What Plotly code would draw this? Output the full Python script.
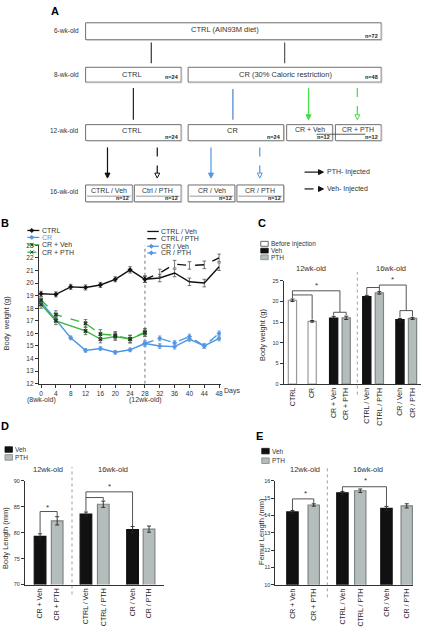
import plotly.graph_objects as go

W, H = 426, 634
FONT = "Liberation Sans, Arial, sans-serif"

# ---------------- DATA ----------------
# Panel B (body weight over time)
days_pre = [0, 4, 8, 12, 16, 20, 24, 28]
ctrl_w = [19.15, 19.1, 19.7, 19.65, 19.85, 20.3, 21.05, 20.3]
ctrl_e = [0.2, 0.2, 0.2, 0.2, 0.2, 0.2, 0.25, 0.25]
cr_w = [18.5, 17.1, 15.65, 14.65, 14.8, 14.5, 14.7, 15.2]
cr_e = [0.2, 0.2, 0.15, 0.15, 0.15, 0.15, 0.15, 0.2]
days_grp = [0, 4, 12, 16, 20, 24, 28]
crveh_w = [18.3, 17.0, 16.2, 15.55, 15.75, 15.55, 16.05]
crveh_e = [0.3, 0.3, 0.3, 0.3, 0.3, 0.3, 0.3]
crpth_w = [18.65, 17.5, 16.8, 15.95, 15.85, 15.55, 16.1]
crpth_e = [0.25, 0.3, 0.3, 0.35, 0.3, 0.3, 0.3]
days_post = [28, 32, 36, 40, 44, 48]
ctrlveh_w = [20.3, 20.4, 20.8, 20.1, 20.0, 21.3]
ctrlveh_e = [0.25, 0.3, 0.3, 0.3, 0.3, 0.3]
ctrlpth_w = [20.3, 20.8, 21.5, 21.4, 21.45, 22.0]
ctrlpth_e = [0.25, 0.3, 0.3, 0.3, 0.3, 0.3]
crveh2_w = [15.2, 15.0, 14.95, 15.55, 15.0, 15.6]
crveh2_e = [0.2, 0.2, 0.2, 0.2, 0.2, 0.2]
crpth2_w = [15.2, 15.6, 15.25, 15.75, 15.0, 16.0]
crpth2_e = [0.2, 0.2, 0.2, 0.2, 0.2, 0.2]
b_xticks = [0, 4, 8, 12, 16, 20, 24, 28, 32, 36, 40, 44, 48]

# Panel C (body weight)
c_labels = ["CTRL", "CR", "CR + Veh", "CR + PTH", "CTRL / Veh", "CTRL / PTH", "CR / Veh", "CR / PTH"]
c_values = [20.3, 15.2, 16.0, 16.05, 21.2, 22.1, 15.6, 15.9]
c_err = [0.3, 0.2, 0.4, 0.4, 0.3, 0.3, 0.3, 0.25]
c_group = ["before", "before", "veh", "pth", "veh", "pth", "veh", "pth"]

# Panel D (body length)
d_labels = ["CR + Veh", "CR + PTH", "CTRL / Veh", "CTRL / PTH", "CR / Veh", "CR / PTH"]
d_values = [79.3, 82.3, 83.6, 85.5, 80.6, 80.7]
d_err = [0.5, 0.8, 0.4, 0.6, 0.6, 0.6]
d_group = ["veh", "pth", "veh", "pth", "veh", "pth"]

# Panel E (femur length)
e_labels = ["CR + Veh", "CR + PTH", "CTRL / Veh", "CTRL / PTH", "CR / Veh", "CR / PTH"]
e_values = [14.2, 14.6, 15.3, 15.42, 14.4, 14.55]
e_err = [0.08, 0.07, 0.08, 0.1, 0.12, 0.12]
e_group = ["veh", "pth", "veh", "pth", "veh", "pth"]

# ---------------- LAYOUT CONSTANTS ----------------
c_pos = [0, 2.2, 4.6, 6.0, 8.3, 9.7, 12.0, 13.4]
d_pos = [0, 1.35, 3.62, 4.99, 7.3, 8.6]
e_pos = [0, 1.72, 4.04, 5.48, 7.6, 9.24]

FILL = {"before": "white", "veh": "#111111", "pth": "#b4bcbc"}
EDGE = {"before": "#999999", "veh": "#111111", "pth": "#7d8585"}

BLACK = "#111111"
BLUE = "#4f96e6"
GREEN = "#3cb63c"
ABLUE = "#4a80d6"
AGREEN = "#44dd44"

shapes, annotations = [], []


def X(x):
    return x / W


def Y(y):
    return 1 - y / H


def T(x, y, s, size=7, xa="center", ya="middle", bold=False, color="#333", angle=0):
    annotations.append(dict(x=X(x), y=Y(y), xref="paper", yref="paper",
                            text=f"<b>{s}</b>" if bold else s, showarrow=False,
                            font=dict(size=size, color=color, family=FONT),
                            xanchor=xa, yanchor=ya, textangle=angle, borderpad=0))


def L(x0, y0, x1, y1, color="#333", width=1, dash="solid"):
    shapes.append(dict(type="line", xref="paper", yref="paper", x0=X(x0), y0=Y(y0),
                       x1=X(x1), y1=Y(y1), line=dict(color=color, width=width, dash=dash)))


def poly(pts, color, fill):
    path = "M " + " L ".join(f"{X(a):.5f},{Y(b):.5f}" for a, b in pts) + " Z"
    shapes.append(dict(type="path", xref="paper", yref="paper", path=path,
                       fillcolor=fill, line=dict(color=color, width=1)))


def box(x0, y0, x1, y1):
    shapes.append(dict(type="rect", xref="paper", yref="paper", x0=X(x0), x1=X(x1),
                       y0=Y(y1), y1=Y(y0), line=dict(color="#6f6f6f", width=1), fillcolor="white"))
    L(x0 + 1, y1 + 0.6, x1 + 0.6, y1 + 0.6, "#bbbbbb", 1)
    L(x1 + 0.6, y0 + 1, x1 + 0.6, y1 + 0.6, "#bbbbbb", 1)


def arrow_down(x, y0, y1, color, dash="solid"):
    L(x, y0, x, y1 - 4, color, 1.2, "dash" if dash != "solid" else "solid")
    poly([(x - 2.5, y1 - 5), (x + 2.5, y1 - 5), (x, y1)], color,
         color if dash == "solid" else "white")


# ---------------- PANEL A (flow diagram) ----------------
T(50, 7, "A", 11, xa="left", bold=True, color="#000")
T(80, 27, "6-wk-old", 6.5, xa="right")
box(86, 19, 383, 36)
T(226, 25.5, "CTRL (AIN93M diet)", 7.5)
T(381, 32.5, "n=72", 5.5, xa="right", bold=True, color="#222")
L(152, 39, 152, 60, "#333", 1.2)
L(286, 39, 286, 60, "#555", 1.2)

T(80, 71, "8-wk-old", 6.5, xa="right")
box(86, 64, 182, 79)
T(133, 71, "CTRL", 7.5)
T(181, 73.5, "n=24", 5.5, xa="right", bold=True, color="#222")
box(189, 64, 383, 79)
T(287, 71, "CR (30% Caloric restriction)", 7.5)
T(381, 74, "n=48", 5.5, xa="right", bold=True, color="#222")
L(134, 85, 134, 117, "#222", 1.2)
L(234, 86, 234, 117, ABLUE, 1.2)
arrow_down(310, 85, 117, AGREEN)
arrow_down(359, 85, 117, AGREEN, "dash")

T(80, 128, "12-wk-old", 6.5, xa="right")
box(86, 122, 182, 138)
T(133, 128, "CTRL", 7.5)
T(181, 134.5, "n=24", 5.5, xa="right", bold=True, color="#222")
box(189, 122, 285, 138)
T(234, 128, "CR", 7.5)
T(283, 134.5, "n=24", 5.5, xa="right", bold=True, color="#222")
box(288, 122, 334, 138)
T(311, 126.5, "CR + Veh", 7)
T(333, 134.5, "n=12", 5.5, xa="right", bold=True, color="#222")
box(337, 122, 383, 138)
T(360, 126.5, "CR + PTH", 7)
T(381, 134.5, "n=12", 5.5, xa="right", bold=True, color="#222")
L(318, 131.7, 367, 131.7, "#333", 0.8)

arrow_down(108, 145, 176, "#111")
arrow_down(158, 145, 176, "#111", "dash")
arrow_down(212, 145, 176, BLUE)
arrow_down(261, 145, 176, BLUE, "dash")

L(306, 170, 321, 170, "#111", 1.2)
poly([(320, 167.5), (320, 172.5), (325, 170)], "#111", "#111")
T(328, 170, "PTH- Injected", 7, xa="left")
L(306, 187, 321, 187, "#111", 1.2, "dash")
poly([(320, 184.5), (320, 189.5), (325, 187)], "#111", "#111")
T(328, 187, "Veh- Injected", 7, xa="left")

T(80, 190, "16-wk-old", 6.5, xa="right")
for (x0, x1, lab) in [(86, 133, "CTRL / Veh"), (135, 182, "Ctrl / PTH"),
                      (189, 236, "CR / Veh"), (238, 285, "CR / PTH")]:
    box(x0, 183, x1, 200)
    T((x0 + x1) / 2, 188.5, lab, 7)
    L(x0 + 1.5, 194.3, x1 - 1.5, 194.3, "#999", 1)
    T(x1 - 2, 196.5, "n=12", 5.5, xa="right", bold=True, color="#222")

# ---------------- PANEL B ----------------
T(5, 221, "B", 11, bold=True, color="#000")


def err(arr, color="#555"):
    return dict(type="data", array=arr, visible=True, color=color, thickness=0.8, width=1.8)


traces = []
traces.append(go.Scatter(x=days_pre, y=cr_w, error_y=err(cr_e, "#7aa9e0"), mode="lines+markers",
                         line=dict(color=BLUE, width=1.4), marker=dict(symbol="diamond", size=4, color=BLUE),
                         xaxis="x", yaxis="y", showlegend=False))
traces.append(go.Scatter(x=days_post, y=crveh2_w, error_y=err(crveh2_e, "#7aa9e0"), mode="lines+markers",
                         line=dict(color=BLUE, width=1.4), marker=dict(symbol="diamond", size=4, color=BLUE),
                         xaxis="x", yaxis="y", showlegend=False))
traces.append(go.Scatter(x=days_post, y=crpth2_w, error_y=err(crpth2_e, "#7aa9e0"), mode="lines+markers",
                         line=dict(color=BLUE, width=1.4, dash="dash"),
                         marker=dict(symbol="diamond", size=4, color=BLUE),
                         xaxis="x", yaxis="y", showlegend=False))
traces.append(go.Scatter(x=days_grp, y=crveh_w, error_y=err(crveh_e), mode="lines+markers",
                         line=dict(color=GREEN, width=1.4), marker=dict(symbol="x", size=4, color="#1d3a1d"),
                         xaxis="x", yaxis="y", showlegend=False))
traces.append(go.Scatter(x=days_grp, y=crpth_w, error_y=err(crpth_e), mode="lines+markers",
                         line=dict(color=GREEN, width=1.4, dash="dash"),
                         marker=dict(symbol="x", size=4, color="#1d3a1d"),
                         xaxis="x", yaxis="y", showlegend=False))
traces.append(go.Scatter(x=days_post, y=ctrlveh_w, error_y=err(ctrlveh_e), mode="lines",
                         line=dict(color=BLACK, width=1.4), xaxis="x", yaxis="y", showlegend=False))
traces.append(go.Scatter(x=days_post, y=ctrlpth_w, error_y=err(ctrlpth_e), mode="lines",
                         line=dict(color=BLACK, width=1.4, dash="dash"), xaxis="x", yaxis="y", showlegend=False))
traces.append(go.Scatter(x=days_pre, y=ctrl_w, error_y=err(ctrl_e), mode="lines+markers",
                         line=dict(color=BLACK, width=1.4), marker=dict(symbol="diamond", size=4, color=BLACK),
                         xaxis="x", yaxis="y", showlegend=False))

shapes.append(dict(type="line", xref="x", yref="y", x0=28, x1=28, y0=12, y1=23,
                   line=dict(color="#aaaaaa", width=1.6, dash="dot"), layer="below"))


def diamond(cx, cy, color):
    poly([(cx, cy - 2), (cx + 2, cy), (cx, cy + 2), (cx - 2, cy)], color, color)


def xmark(cx, cy, color):
    L(cx - 1.6, cy - 1.6, cx + 1.6, cy + 1.6, color, 1)
    L(cx - 1.6, cy + 1.6, cx + 1.6, cy - 1.6, color, 1)


# left legend
L(27.5, 229, 39.5, 229, BLACK, 1.3); diamond(32, 229, BLACK); T(41.5, 229, "CTRL", 7, xa="left")
L(27.5, 236, 39.5, 236, BLUE, 1.3); diamond(32, 236, BLUE); T(41.5, 236, "CR", 7, xa="left", color=BLUE)
L(27.5, 243.5, 39.5, 243.5, GREEN, 1.3); xmark(32, 243.5, "#1d3a1d"); T(41.5, 243.5, "CR + Veh", 7, xa="left")
L(27.5, 251, 39.5, 251, GREEN, 1.3, "dash"); xmark(32, 251, "#1d3a1d"); T(41.5, 251, "CR + PTH", 7, xa="left")
# right legend
L(148, 230, 159.5, 230, BLACK, 1.3); T(161, 230, "CTRL / Veh", 7, xa="left")
L(148, 237.3, 159.5, 237.3, BLACK, 1.3, "dash"); T(161, 237.3, "CTRL / PTH", 7, xa="left")
L(148, 245, 159.5, 245, BLUE, 1.3); diamond(152, 245, BLUE); T(161, 245, "CR / Veh", 7, xa="left")
L(148, 251.7, 159.5, 251.7, BLUE, 1.3, "dash"); diamond(152, 251.7, BLUE); T(161, 251.7, "CR / PTH", 7, xa="left")

T(6, 322, "Body  weight (g)", 7.5, angle=-90)
T(41.3, 400, "(8wk-old)", 7)
T(145.7, 400, "(12wk-old)", 7)
T(224, 391, "Days", 7, xa="left")


# ---------------- BAR PANELS ----------------
def bars(pos, vals, errs, groups, xa, ya):
    return go.Bar(x=pos, y=vals, width=0.92,
                  marker=dict(color=[FILL[g] for g in groups],
                              line=dict(color=[EDGE[g] for g in groups], width=1.2)),
                  error_y=dict(type="data", array=errs, visible=True, color="#222", thickness=0.9, width=2),
                  xaxis=xa, yaxis=ya, showlegend=False)


traces.append(bars(c_pos, c_values, c_err, c_group, "x2", "y2"))
traces.append(bars(d_pos, d_values, d_err, d_group, "x3", "y3"))
traces.append(bars(e_pos, e_values, e_err, e_group, "x4", "y4"))


def seg(xr, yr, x0, y0, x1, y1, color="#555"):
    shapes.append(dict(type="line", xref=xr, yref=yr, x0=x0, y0=y0, x1=x1, y1=y1,
                       line=dict(color=color, width=1)))


def legend_sq(x, y, w, h, key):
    shapes.append(dict(type="rect", xref="paper", yref="paper", x0=X(x), x1=X(x + w),
                       y0=Y(y + h), y1=Y(y), fillcolor=FILL[key], line=dict(color=EDGE[key] if key != "before" else "#444", width=0.8)))


# Panel C
T(263, 221, "C", 11, bold=True, color="#000")
legend_sq(262, 240, 7.5, 5, "before"); T(271.5, 242.5, "Before injection", 6.5, xa="left")
legend_sq(262, 247, 7.5, 4.8, "veh"); T(271.5, 249.3, "Veh", 6.5, xa="left")
legend_sq(262, 253.7, 7.5, 4.8, "pth"); T(271.5, 256, "PTH", 6.5, xa="left")
T(312.7, 267.7, "12wk-old", 7.5)
T(392.7, 267.7, "16wk-old", 7.5)
T(264, 334, "Body weight (g)", 7.5, angle=-90)
shapes.append(dict(type="line", xref="x2", yref="paper", x0=7.24, x1=7.24, y0=Y(395), y1=Y(271),
                   line=dict(color="#888", width=0.8, dash="dot")))
xr, yr = "x2", "y2"
seg(xr, yr, c_pos[0], 20.7, c_pos[0], 22.6)
seg(xr, yr, c_pos[0], 22.6, (c_pos[2] + c_pos[3]) / 2, 22.6)
seg(xr, yr, (c_pos[2] + c_pos[3]) / 2, 22.6, (c_pos[2] + c_pos[3]) / 2, 17.4)
seg(xr, yr, c_pos[0], 21.6, c_pos[1], 21.6)
seg(xr, yr, c_pos[1], 21.6, c_pos[1], 15.6)
seg(xr, yr, c_pos[2], 17.4, c_pos[3], 17.4)
seg(xr, yr, c_pos[2], 17.4, c_pos[2], 16.6)
seg(xr, yr, c_pos[3], 17.4, c_pos[3], 16.7)
seg(xr, yr, c_pos[4], 21.6, c_pos[4], 23.4)
seg(xr, yr, c_pos[4], 23.4, c_pos[5], 23.4)
seg(xr, yr, c_pos[5], 22.5, c_pos[5], 24.0)
seg(xr, yr, c_pos[5], 24.0, (c_pos[6] + c_pos[7]) / 2, 24.0)
seg(xr, yr, (c_pos[6] + c_pos[7]) / 2, 24.0, (c_pos[6] + c_pos[7]) / 2, 17.8)
seg(xr, yr, c_pos[6], 17.8, c_pos[7], 17.8)
seg(xr, yr, c_pos[6], 17.8, c_pos[6], 16.1)
seg(xr, yr, c_pos[7], 17.8, c_pos[7], 16.4)
T(317.7, 285, "*", 8)
T(394.3, 278.5, "*", 8)

# Panel D
T(5, 427, "D", 11, bold=True, color="#000")
legend_sq(5, 447.7, 7.5, 5.6, "veh"); T(14.5, 450.5, "Veh", 6.5, xa="left")
legend_sq(5, 455.7, 7.5, 5.6, "pth"); T(14.5, 458.5, "PTH", 6.5, xa="left")
T(48.3, 470.7, "12wk-old", 7.5)
T(113.3, 470.7, "16wk-old", 7.5)
T(5, 540, "Body Length (mm)", 7.5, angle=-90)
shapes.append(dict(type="line", xref="x3", yref="paper", x0=2.52, x1=2.52, y0=Y(597), y1=Y(468),
                   line=dict(color="#888", width=0.8, dash="dot")))
xr, yr = "x3", "y3"
seg(xr, yr, d_pos[0], 79.9, d_pos[0], 84.1)
seg(xr, yr, d_pos[0], 84.1, d_pos[1], 84.1)
seg(xr, yr, d_pos[1], 84.1, d_pos[1], 83.2)
seg(xr, yr, d_pos[2], 84.1, d_pos[2], 87.9)
seg(xr, yr, d_pos[2], 87.9, d_pos[4], 87.9)
seg(xr, yr, d_pos[4], 87.9, d_pos[4], 81.3)
seg(xr, yr, d_pos[2], 86.8, d_pos[3], 86.8)
seg(xr, yr, d_pos[3], 86.8, d_pos[3], 86.2)
T(47.7, 509.5, "*", 8)
T(110, 488, "*", 8)

# Panel E
T(261, 437, "E", 11, bold=True, color="#000")
legend_sq(263, 449.3, 7.5, 5.6, "veh"); T(272.5, 452.2, "Veh", 6.5, xa="left")
legend_sq(263, 459, 7.5, 5.6, "pth"); T(272.5, 461.8, "PTH", 6.5, xa="left")
T(306.7, 470.7, "12wk-old", 7.5)
T(369.3, 470.7, "16wk-old", 7.5)
T(262.7, 533.3, "Femur Length (mm)", 7.5, angle=-90)
shapes.append(dict(type="line", xref="x4", yref="paper", x0=2.82, x1=2.82, y0=Y(600), y1=Y(467),
                   line=dict(color="#888", width=0.8, dash="dot")))
xr, yr = "x4", "y4"
seg(xr, yr, e_pos[0], 14.3, e_pos[0], 14.95)
seg(xr, yr, e_pos[0], 14.95, e_pos[1], 14.95)
seg(xr, yr, e_pos[1], 14.95, e_pos[1], 14.7)
seg(xr, yr, e_pos[2], 15.4, e_pos[2], 15.65)
seg(xr, yr, e_pos[2], 15.65, e_pos[4], 15.65)
seg(xr, yr, e_pos[4], 15.65, e_pos[4], 14.52)
T(306.7, 495, "*", 8)
T(367.3, 482, "*", 8)

# ---------------- AXES ----------------
axfont = dict(size=6.5, color="#333", family=FONT)
common = dict(showline=True, linecolor="#333", linewidth=1, ticks="outside", ticklen=3,
              tickwidth=1, tickcolor="#333", showgrid=False, zeroline=False, tickfont=axfont, fixedrange=True)

layout = go.Layout(
    width=W, height=H, margin=dict(l=0, r=0, t=0, b=0),
    paper_bgcolor="white", plot_bgcolor="white",
    font=dict(family=FONT, color="#333"),
    bargap=0, hovermode=False,
    xaxis=dict(domain=[X(39), X(222)], range=[-0.6, 48.5], tickvals=b_xticks, anchor="y", **common),
    yaxis=dict(domain=[Y(384), Y(244)], range=[12, 23], dtick=1, anchor="x", **common),
    xaxis2=dict(domain=[X(285), X(423)], range=[-0.98, 14.35], tickvals=c_pos, ticktext=c_labels,
                tickangle=-90, anchor="y2", **{**common, "ticks": "", "tickfont": dict(size=7, color="#222", family=FONT)}),
    yaxis2=dict(domain=[Y(384.3), Y(280)], range=[0, 25], dtick=5, anchor="x2",
                **{**common, "tickfont": dict(size=5.5, color="#333", family=FONT)}),
    xaxis3=dict(domain=[X(25), X(165)], range=[-1.2, 9.8], tickvals=d_pos, ticktext=d_labels,
                tickangle=-90, anchor="y3", **{**common, "ticks": "", "tickfont": dict(size=7, color="#222", family=FONT)}),
    yaxis3=dict(domain=[Y(587), Y(482.3)], range=[70, 90], dtick=5, anchor="x3",
                **{**common, "tickfont": dict(size=5.5, color="#333", family=FONT)}),
    xaxis4=dict(domain=[X(276.7), X(415)], range=[-1.38, 9.75], tickvals=e_pos, ticktext=e_labels,
                tickangle=-90, anchor="y4", **{**common, "ticks": "", "tickfont": dict(size=7, color="#222", family=FONT)}),
    yaxis4=dict(domain=[Y(587.3), Y(482)], range=[10, 16], dtick=1, anchor="x4",
                **{**common, "tickfont": dict(size=5.5, color="#333", family=FONT)}),
    shapes=shapes, annotations=annotations,
)

fig = go.Figure(data=traces, layout=layout)
fig.write_html("out.html", config={"displayModeBar": False, "staticPlot": True},
               post_script="document.body.style.margin='0px';document.body.style.overflow='hidden';")
